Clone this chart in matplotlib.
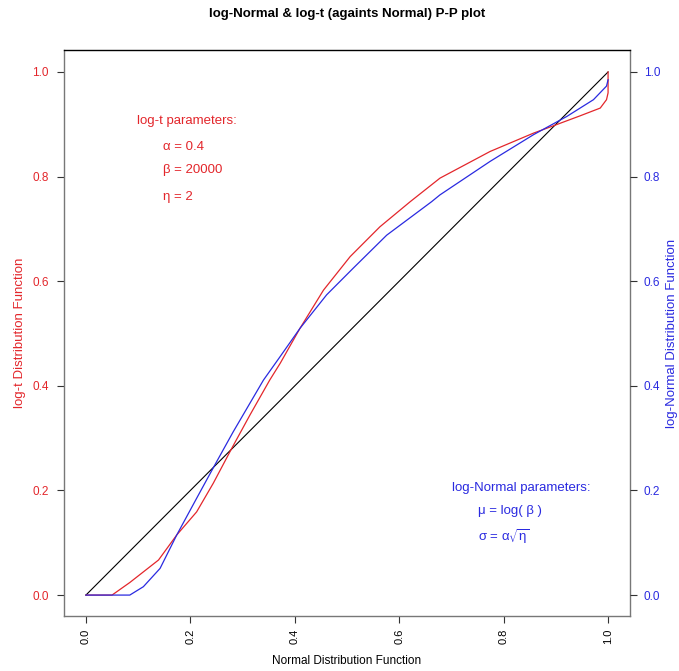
import matplotlib
matplotlib.use('Agg')
import matplotlib.pyplot as plt
import numpy as np

plt.rcParams['font.family'] = ['Liberation Sans', 'DejaVu Sans']
plt.rcParams['mathtext.default'] = 'regular'

# P-P curves (x = Normal CDF, y = other CDF)
logt_x = [0.0, 0.05, 0.084, 0.139, 0.174, 0.212, 0.244, 0.279, 0.314, 0.352,
          0.372, 0.41, 0.455, 0.506, 0.563, 0.621, 0.678, 0.774, 0.857, 0.895,
          0.946, 0.985, 0.997, 1.0, 1.0]
logt_y = [0.0, 0.0, 0.024, 0.067, 0.115, 0.159, 0.214, 0.280, 0.344, 0.411,
          0.443, 0.51, 0.583, 0.647, 0.704, 0.752, 0.797, 0.848, 0.883, 0.897,
          0.916, 0.931, 0.947, 0.96, 1.0]

lognorm_x = [0.0, 0.084, 0.11, 0.142, 0.174, 0.212, 0.247, 0.282, 0.340, 0.372,
             0.41, 0.461, 0.512, 0.576, 0.662, 0.678, 0.774, 0.857, 0.921, 0.972,
             0.997, 1.0]
lognorm_y = [0.0, 0.0, 0.016, 0.051, 0.115, 0.185, 0.249, 0.312, 0.411, 0.456,
             0.51, 0.574, 0.625, 0.688, 0.752, 0.765, 0.829, 0.880, 0.915, 0.947,
             0.973, 0.985]

ref_line = [0.0, 1.0]
ticks = [0.0, 0.2, 0.4, 0.6, 0.8, 1.0]
tick_labels = ['0.0', '0.2', '0.4', '0.6', '0.8', '1.0']

red = '#e3262b'
blue = '#2a2ae0'
grey = '#777777'

fig = plt.figure(figsize=(6.79, 6.71), dpi=100)
ax = fig.add_axes([64/679, 55/671, 566/679, 566/671])

ax.plot(ref_line, ref_line, color='black', lw=0.8)
ax.plot(logt_x, logt_y, color=red, lw=0.9)
ax.plot(lognorm_x, lognorm_y, color=blue, lw=0.9)

ax.set_xlim(-0.042, 1.042)
ax.set_ylim(-0.040, 1.042)

for s in ['left', 'right', 'bottom']:
    ax.spines[s].set_color(grey)
ax.spines['top'].set_color('black')
for s in ax.spines.values():
    s.set_linewidth(1.0)

ax.set_xticks(ticks)
ax.set_xticklabels(tick_labels, rotation=90, fontsize=8)
ax.set_yticks(ticks)
ax.set_yticklabels(tick_labels, fontsize=8.5, color=red)
ax.tick_params(axis='y', length=5, width=0.8, color='#333333', pad=6)
ax.tick_params(axis='x', length=5, width=0.8, color='#333333', pad=4)

ax2 = ax.twinx()
ax2.set_ylim(ax.get_ylim())
ax2.set_yticks(ticks)
ax2.set_yticklabels(tick_labels, fontsize=8.5, color=blue)
ax2.tick_params(axis='y', length=5, width=0.8, color='#333333', pad=5)
for s in ax2.spines.values():
    s.set_visible(False)

fig.text(347/679, 1 - 14/671, 'log-Normal & log-t (againts Normal) P-P plot',
         ha='center', va='center', fontsize=9.5, fontweight='bold')
fig.text(347/679, 1 - 661/671, 'Normal Distribution Function',
         ha='center', va='center', fontsize=8.5)
fig.text(20/679, 1 - 333/671, 'log-t Distribution Function', rotation=90,
         ha='center', va='center', fontsize=9.5, color=red)
fig.text(672/679, 1 - 333/671, 'log-Normal Distribution Function', rotation=90,
         ha='center', va='center', fontsize=9.5, color=blue)

ax.text(0.098, 0.906, 'log-t parameters:', color=red, fontsize=9.5, va='center')
ax.text(0.148, 0.857, 'α = 0.4', color=red, fontsize=9.5, va='center')
ax.text(0.148, 0.813, 'β = 20000', color=red, fontsize=9.5, va='center')
ax.text(0.148, 0.761, 'η = 2', color=red, fontsize=9.5, va='center')

ax.text(0.701, 0.205, 'log-Normal parameters:', color=blue, fontsize=9.5, va='center')
ax.text(0.751, 0.161, 'μ = log( β )', color=blue, fontsize=9.5, va='center')
ax.text(0.751, 0.111, r'σ = α$\sqrt{\eta}$', color=blue, fontsize=9.5, va='center')

plt.savefig('out.png', dpi=100)
